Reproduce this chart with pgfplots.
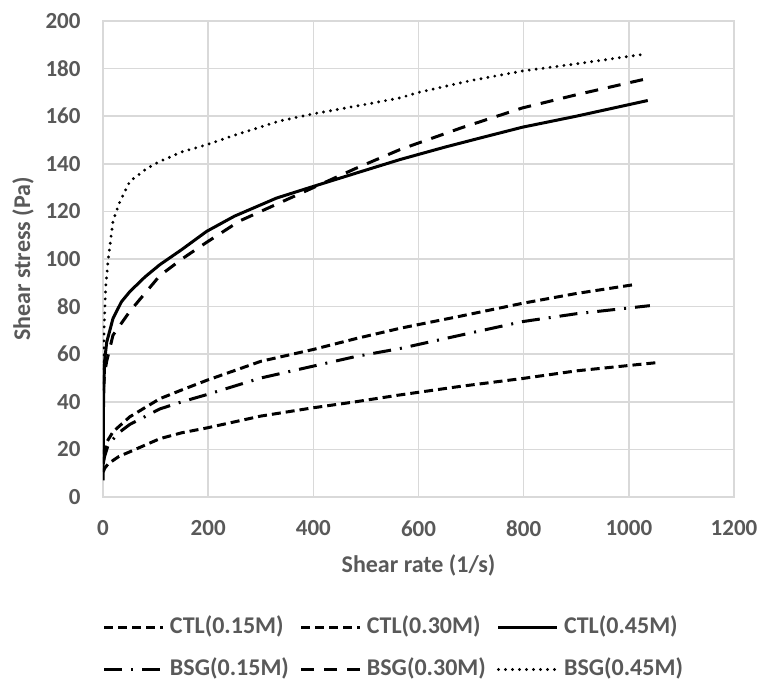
\documentclass[border=0pt]{standalone}
\usepackage{fontspec}
\setmainfont{Carlito}
\usepackage{pgfplots}
\pgfplotsset{compat=1.18}
\definecolor{txtgray}{HTML}{595959}
\definecolor{gridgray}{HTML}{D9D9D9}

\begin{document}
\begin{tikzpicture}
  \begin{axis}[
      scale only axis,
      width  = 315.5pt,
      height = 238pt,
      xmin = 0, xmax = 1200,
      ymin = 0, ymax = 200,
      xtick = {0,200,...,1200},
      ytick = {0,20,...,200},
      major tick length = 0pt,
      grid = major,
      major grid style = {gridgray, line width=0.8pt},
      axis line style = {gridgray, line width=0.8pt},
      /pgf/number format/assume math mode=true,
      /pgf/number format/1000 sep={},
      tick label style = {font=\fontsize{11.5}{13}\selectfont\bfseries, text=txtgray},
      yticklabel style = {xshift=-7.7pt},
      xticklabel style = {yshift=-8.2pt},
      xlabel = {Shear rate (1/s)},
      ylabel = {Shear stress (Pa)},
      every axis x label/.style = {at={(axis description cs:0.5,0)}, anchor=center, yshift=-34pt},
      every axis y label/.style = {at={(axis description cs:0,0.5)}, anchor=center, rotate=90, yshift=40pt},
      label style = {font=\fontsize{12}{14}\selectfont\bfseries, text=txtgray},
      legend columns = 3,
      legend style = {
        draw=none, fill=none, inner sep=0pt, outer sep=0pt,
        at={(axis description cs:0,-0.251)}, anchor=north west,
        font=\fontsize{12}{14}\selectfont\bfseries, text=txtgray,
        nodes={inner sep=0pt, text height=8.5pt, text depth=2.5pt},
        /tikz/every odd column/.append style={column sep=2.5pt},
        /tikz/every even column/.append style={column sep=5.5pt},
        row sep=10pt,
      },
      legend cell align = left,
      legend image code/.code={\draw[#1] (0pt,0pt) -- (29.5pt,0pt);},
      every axis plot/.append style={black, line width=1.5pt},
    ]
    % CTL(0.15M)
    \addplot[dash pattern=on 4.5pt off 2.5pt] coordinates {
      (0.5,10.5) (3,12) (10,14) (30,17) (51,19) (108,24.5) (150,27) (197,29)
      (300,34) (400,37.5) (480,40) (565,42.9) (680,46.5) (798,49.8) (900,53) (1055,56.5)};
    \addlegendentry{CTL(0.15M)}
    % CTL(0.30M)
    \addplot[dash pattern=on 4.5pt off 2.5pt] coordinates {
      (0.5,18) (3,20) (7,23) (19,27.4) (51,33.7) (108,41.3) (150,45) (197,49)
      (300,57) (400,62) (480,66.5) (565,70.9) (680,76) (798,81.4) (900,85.5) (1015,89.4)};
    \addlegendentry{CTL(0.30M)}
    % CTL(0.45M)
    \addplot[solid] coordinates {
      (0.3,7) (1,40) (3,57) (7,65) (19,75) (35,82) (51,86.3) (80,92.5) (108,97.6)
      (150,104) (197,111.6) (250,118) (330,125.6) (400,130.5) (480,136) (565,141.8)
      (650,147) (720,151) (798,155.4) (900,160) (1036,166.6)};
    \addlegendentry{CTL(0.45M)}
    % BSG(0.15M)
    \addplot[dash pattern=on 9pt off 4.5pt on 1pt off 4.5pt] coordinates {
      (0.5,14) (3,17) (10,22) (30,27) (51,30.5) (108,37) (150,40) (197,43)
      (300,50) (400,55) (480,59) (565,62.4) (680,68) (798,73.7) (900,77) (1040,80.4)};
    \addlegendentry{BSG(0.15M)}
    % BSG(0.30M)
    \addplot[dash pattern=on 6.5pt off 5pt] coordinates {
      (0.5,45) (3,52) (7,57) (19,68) (51,78) (108,93) (150,100) (197,107) (260,116)
      (330,123) (400,130) (480,138) (565,146) (680,155) (798,163.5) (900,169) (1027,175.4)};
    \addlegendentry{BSG(0.30M)}
    % BSG(0.45M)
    \addplot[line width=1.6pt, line cap=round, dash pattern=on 0pt off 3.5pt] coordinates {
      (0.5,45) (2,70) (5,88) (10,100) (19,116) (32,124) (51,132.6) (83,138) (108,141)
      (150,145) (197,148) (250,152) (336,158) (400,161) (500,165) (565,167.7) (600,170)
      (700,175) (798,179) (900,182) (1034,186.2)};
    \addlegendentry{BSG(0.45M)}
  \end{axis}
  % page frame matching the reference's margins
  \pgfresetboundingbox
  \path (current axis.south west) ++(-51.5pt,-92.5pt) rectangle ++(380.5pt,341pt);
\end{tikzpicture}
\end{document}
